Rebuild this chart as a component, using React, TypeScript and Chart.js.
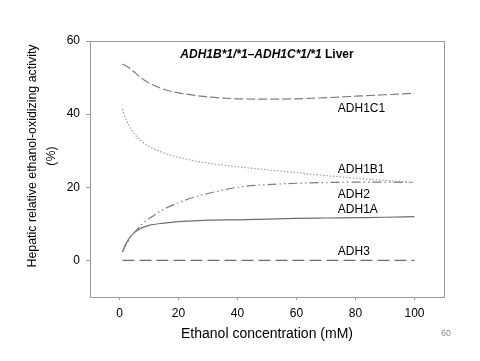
import React, { useEffect, useRef } from "react";
import { Chart, registerables } from "chart.js";

Chart.register(...registerables);

const xValues = [1, 2, 3, 4, 5, 7.5, 10, 15, 20, 25, 30, 40, 50, 60, 70, 80, 90, 100];
const adh1c1 = [53.7, 53.3, 52.8, 52.1, 51.5, 49.8, 48.5, 46.8, 45.8, 45.2, 44.7, 44.2, 44.1, 44.2, 44.5, 44.9, 45.3, 45.7];
const adh1b1 = [41.4, 39.0, 37.2, 35.8, 34.6, 32.6, 31.2, 29.4, 28.2, 27.3, 26.6, 25.6, 24.8, 24.0, 23.2, 22.5, 21.9, 21.3];
const adh2 = [2.3, 4.0, 5.4, 6.6, 7.6, 9.8, 11.4, 14.0, 15.8, 17.2, 18.3, 20.0, 20.7, 21.1, 21.3, 21.4, 21.4, 21.3];
const adh1a = [2.3, 4.2, 5.7, 6.8, 7.6, 8.9, 9.6, 10.2, 10.6, 10.8, 11.0, 11.1, 11.3, 11.5, 11.6, 11.7, 11.8, 12.0];
const adh3 = [0, 0, 0, 0, 0, 0, 0, 0, 0, 0, 0, 0, 0, 0, 0, 0, 0, 0];

const seriesNames = ["ADH1C1", "ADH1B1", "ADH2", "ADH1A", "ADH3"];
const labelX = 74;
const labelY = [41.6, 24.9, 18.1, 14.0, 2.5];

const xTicks = [0, 20, 40, 60, 80, 100];
const yTicks = [0, 20, 40, 60];

const titleItalic = "ADH1B*1/*1\u2013ADH1C*1/*1";
const titleRest = " Liver";
const yTitle1 = "Hepatic relative ethanol-oxidizing activity";
const yTitle2 = "(%)";
const xTitle = "Ethanol concentration (mM)";
const pageNumber = "60";

const FONT = "'Liberation Sans', Arial, sans-serif";

const mk = (arr: number[]) => xValues.map((x, i) => ({ x, y: arr[i] }));

const decorPlugin = {
  id: "decor",
  afterDraw(chart: any) {
    const { ctx, chartArea, scales } = chart;
    const xs = scales.x;
    const ys = scales.y;
    ctx.save();
    // box
    ctx.strokeStyle = "#9a9a9a";
    ctx.lineWidth = 1;
    ctx.strokeRect(Math.round(chartArea.left) + 0.5, Math.round(chartArea.top) + 0.5,
      Math.round(chartArea.right - chartArea.left), Math.round(chartArea.bottom - chartArea.top));
    // title
    ctx.fillStyle = "#000";
    ctx.textBaseline = "middle";
    ctx.font = `italic bold 12px ${FONT}`;
    const w1 = ctx.measureText(titleItalic).width;
    ctx.font = `bold 12px ${FONT}`;
    const w2 = ctx.measureText(titleRest).width;
    const cx = (chartArea.left + chartArea.right) / 2;
    const start = cx - (w1 + w2) / 2;
    ctx.font = `italic bold 12px ${FONT}`;
    ctx.textAlign = "left";
    ctx.fillText(titleItalic, start, 55);
    ctx.font = `bold 12px ${FONT}`;
    ctx.fillText(titleRest, start + w1, 55);
    // curve labels
    ctx.font = `12px ${FONT}`;
    seriesNames.forEach((n, i) => {
      ctx.fillText(n, xs.getPixelForValue(labelX), ys.getPixelForValue(labelY[i]));
    });
    // x title
    ctx.textAlign = "center";
    ctx.font = `14px ${FONT}`;
    ctx.fillText(xTitle, cx, 334);
    // y title
    ctx.save();
    ctx.translate(33, 156);
    ctx.rotate(-Math.PI / 2);
    ctx.font = `12.4px ${FONT}`;
    ctx.fillText(yTitle1, 0, 0);
    ctx.fillText(yTitle2, 0, 19);
    ctx.restore();
    // page number
    ctx.fillStyle = "#8a8a8a";
    ctx.font = `9px ${FONT}`;
    ctx.fillText(pageNumber, 446, 334);
    ctx.restore();
  },
};

export default function App() {
  const ref = useRef<HTMLCanvasElement | null>(null);
  useEffect(() => {
    if (!ref.current) return;
    const common = { pointRadius: 0, borderWidth: 1.2, fill: false, cubicInterpolationMode: "monotone" as const };
    const chart = new Chart(ref.current, {
      type: "line",
      data: {
        datasets: [
          { ...common, label: seriesNames[0], data: mk(adh1c1), borderColor: "#7d7d7d", borderDash: [9, 3] },
          { ...common, label: seriesNames[1], data: mk(adh1b1), borderColor: "#a898a8", borderDash: [1.5, 1.8] },
          { ...common, label: seriesNames[2], data: mk(adh2), borderColor: "#7d7d7d", borderDash: [9, 3, 1.5, 3, 1.5, 3] },
          { ...common, label: seriesNames[3], data: mk(adh1a), borderColor: "#6e6e6e" },
          { ...common, label: seriesNames[4], data: mk(adh3), borderColor: "#6e6e6e", borderDash: [12, 5] },
        ],
      },
      options: {
        animation: false,
        responsive: false,
        layout: { padding: { left: 0, top: 41, right: 36, bottom: 0 } },
        plugins: { legend: { display: false }, tooltip: { enabled: false }, title: { display: false } },
        scales: {
          x: {
            type: "linear",
            min: -10,
            max: 110,
            afterBuildTicks: (s: any) => { s.ticks = xTicks.map((v) => ({ value: v })); },
            afterFit: (s: any) => { s.height = 64; },
            grid: { display: true, drawOnChartArea: false, drawTicks: true, tickLength: 3, color: "#9a9a9a" },
            border: { display: true, color: "#9a9a9a" },
            ticks: { color: "#000", font: { family: FONT, size: 12 }, padding: 6, maxRotation: 0 },
          },
          y: {
            type: "linear",
            min: -10,
            max: 60,
            afterBuildTicks: (s: any) => { s.ticks = yTicks.map((v) => ({ value: v })); },
            afterFit: (s: any) => { s.width = 90; },
            grid: { display: true, drawOnChartArea: false, drawTicks: true, tickLength: 4, color: "#9a9a9a" },
            border: { display: true, color: "#9a9a9a" },
            ticks: { color: "#000", font: { family: FONT, size: 12 }, padding: 6 },
          },
        },
      },
      plugins: [decorPlugin],
    });
    return () => chart.destroy();
  }, []);
  return (
    <div style={{ position: "fixed", left: 0, top: 0, width: 480, height: 361, background: "#fff" }}>
      <canvas ref={ref} width={480} height={361} style={{ width: 480, height: 361 }} />
    </div>
  );
}
